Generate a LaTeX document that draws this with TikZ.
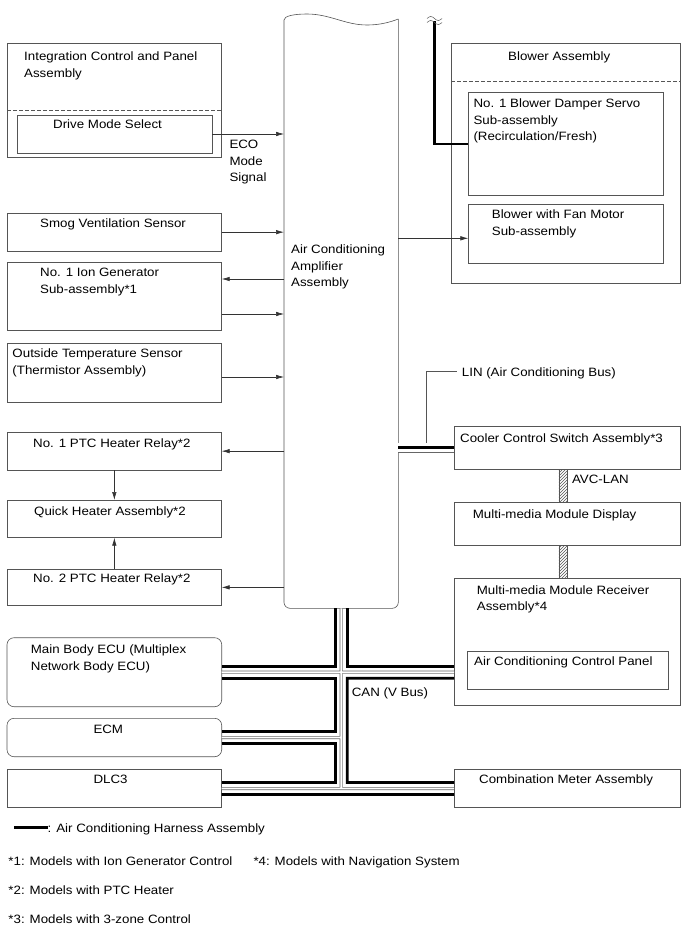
\documentclass[tikz,border=0pt]{standalone}
\usepackage{fontspec}
\setmainfont{Liberation Sans}[FakeStretch=1.1]
\usepackage{xcolor}
\definecolor{boxGray}{HTML}{555555}
\definecolor{busGray}{HTML}{666666}
\usepackage{tikz}
\usetikzlibrary{arrows.meta, positioning, patterns}

\begin{document}
\begin{tikzpicture}[
		x=1pt, y=-1pt,
		box/.style={
			draw=boxGray,
			line width=0.6pt,
			inner sep=0pt,
			outer sep=0pt,
			anchor=north west
		},
		rbox/.style={box, rounded corners=7pt},
		txt/.style={
			inner sep=0pt,
			align=left,
			font=\fontsize{12.1}{16.5}\selectfont
		},
		divider/.style={draw=boxGray, line width=0.6pt, dash pattern=on 4pt off 2pt},
		arrow/.style={-{Latex[length=8pt, width=4.5pt]}, draw=black!80, line width=0.6pt},
		harness/.style={line width=2.7pt, draw=black},
		bus/.style={draw=busGray, line width=0.6pt, double=white, double distance=1.8pt},
		avc/.style={draw=boxGray, line width=0.5pt, pattern=north east lines, pattern color=boxGray}
		]
		\useasboundingbox (0,0) rectangle (690,951);
		
		% left column
		\node[box, minimum width=214.7pt, minimum height=114pt] (intg) at (7,43) {};
		\node[box, minimum width=195pt, minimum height=38pt] (drive) at (17,115) {};
		\node[box, minimum width=214.7pt, minimum height=37.7pt] (smog) at (7,213.3) {};
		\node[box, minimum width=214.7pt, minimum height=68.4pt, below=11.3pt of smog] (ion) {};
		\node[box, minimum width=214.7pt, minimum height=59.4pt, below=12.6pt of ion] (otemp) {};
		\node[box, minimum width=214.7pt, minimum height=37.7pt, below=29.6pt of otemp] (ptca) {};
		\node[box, minimum width=214.7pt, minimum height=37.7pt, below=30pt of ptca] (quick) {};
		\node[box, minimum width=214.7pt, minimum height=36.7pt, below=31.3pt of quick] (ptcb) {};
		\node[rbox, minimum width=214.7pt, minimum height=69pt, below=32pt of ptcb] (mbecu) {};
		\node[rbox, minimum width=214.7pt, minimum height=38.4pt, below=11.6pt of mbecu] (ecm) {};
		\node[box, minimum width=214.7pt, minimum height=38.4pt, below=12.6pt of ecm] (dlc) {};
		
		\draw[divider] ([yshift=-67pt]intg.north west) -- ([yshift=-67pt]intg.north east);
		
		\node[txt, below right=9pt and 17pt of intg.north west] (intgT) {Integration Control and Panel\\Assembly};
		\node[txt, below right=5pt and 36pt of drive.north west] (driveT) {Drive Mode Select};
		\node[txt, below right=6pt and 17.3pt of drive.east] (eco) {ECO\\Mode\\Signal};
		\node[txt, below right=5.7pt and 33pt of smog.north west] (smogT) {Smog Ventilation Sensor};
		\node[txt, below right=6pt and 33pt of ion.north west] (ionT) {No. 1 Ion Generator\\Sub-assembly*1};
		\node[txt, below right=5.7pt and 5.3pt of otemp.north west] (otempT) {Outside Temperature Sensor\\(Thermistor Assembly)};
		\node[txt, below right=6.7pt and 26pt of ptca.north west] (ptcaT) {No. 1 PTC Heater Relay*2};
		\node[txt, below right=7pt and 27pt of quick.north west] (quickT) {Quick Heater Assembly*2};
		\node[txt, below right=5pt and 26pt of ptcb.north west] (ptcbT) {No. 2 PTC Heater Relay*2};
		\node[txt, below right=7.3pt and 23.7pt of mbecu.north west] (mbecuT) {Main Body ECU (Multiplex\\Network Body ECU)};
		\node[txt, below right=6.7pt and 86.3pt of ecm.north west] (ecmT) {ECM};
		\node[txt, below right=5.7pt and 86.3pt of dlc.north west] (dlcT) {DLC3};
		
		% amplifier
		\node[inner sep=0pt, outer sep=0pt, anchor=north west, minimum width=114.3pt, minimum height=590.3pt] (amp) at (284,18) {};
		\draw[draw=boxGray, line width=0.6pt] (398.3,19) .. controls (388,23) and (378,25) .. (367,25)
			.. controls (345,25) and (330,14) .. (307,14) .. controls (294,14) and (284,16) .. (284,20)
			[rounded corners=6pt] -- (amp.south west) -- (amp.south east) -- (398.3,19);
		\node[txt, below right=227pt and 7pt of amp.north west] (ampT) {Air Conditioning\\Amplifier\\Assembly};
		
		% right column
		\node[box, minimum width=229pt, minimum height=240pt] (blower) at (451,43.3) {};
		\node[box, minimum width=195pt, minimum height=102.3pt] (damper) at (468.3,92.7) {};
		\node[box, minimum width=195pt, minimum height=59pt] (fan) at (468.3,204.3) {};
		\node[box, minimum width=226.7pt, minimum height=43pt] (cooler) at (454,426) {};
		\node[box, minimum width=226.7pt, minimum height=43pt, below=33.7pt of cooler] (display) {};
		\node[box, minimum width=226.7pt, minimum height=126.7pt, below=32.6pt of display] (recv) {};
		\node[box, minimum width=201pt, minimum height=38pt] (acpanel) at (467.3,651) {};
		\node[box, minimum width=226.7pt, minimum height=38.4pt] (meter) at (454,769.3) {};
		
		\draw[divider] ([yshift=-37.7pt]blower.north west) -- ([yshift=-37.7pt]blower.north east);
		
		\node[txt, below right=8.4pt and 57pt of blower.north west] (blowerT) {Blower Assembly};
		\node[txt, below right=6.3pt and 5pt of damper.north west] (damperT) {No. 1 Blower Damper Servo\\Sub-assembly\\(Recirculation/Fresh)};
		\node[txt, below right=5.7pt and 23.4pt of fan.north west] (fanT) {Blower with Fan Motor\\Sub-assembly};
		\node[txt, below right=7.3pt and 6pt of cooler.north west] (coolerT) {Cooler Control Switch Assembly*3};
		\node[txt, below right=6.6pt and 18.7pt of display.north west] (displayT) {Multi-media Module Display};
		\node[txt, below right=7pt and 22.7pt of recv.north west] (recvT) {Multi-media Module Receiver\\Assembly*4};
		\node[txt, below right=5.7pt and 6.7pt of acpanel.north west] (acpanelT) {Air Conditioning Control Panel};
		\node[txt, below right=5.7pt and 25pt of meter.north west] (meterT) {Combination Meter Assembly};
		
		% signal lines
		\draw[arrow] (drive.east) -- (drive.east -| amp.west);
		\draw[arrow] (smog.east) -- (smog.east -| amp.west);
		\draw[arrow] ([yshift=17.5pt]ion.east -| amp.west) -- ([yshift=17.5pt]ion.east);
		\draw[arrow] ([yshift=-17.5pt]ion.east) -- ([yshift=-17.5pt]ion.east -| amp.west);
		\draw[arrow] ([yshift=-4pt]otemp.east) -- ([yshift=-4pt]otemp.east -| amp.west);
		\draw[arrow] (ptca.east -| amp.west) -- (ptca.east);
		\draw[arrow] (ptcb.east -| amp.west) -- (ptcb.east);
		\draw[arrow] (ptca.south) -- (quick.north);
		\draw[arrow] (ptcb.north) -- (quick.south);
		\draw[arrow] ([yshift=-4.5pt]fan.west -| amp.east) -- ([yshift=-4.5pt]fan.west);
		
		% harness to damper servo
		\coordinate (brk) at (434.3,21);
		\draw[harness] (brk) |- (damper.west);
		\draw[draw=boxGray, line width=0.5pt] (427,18.5) sin (430.75,16.5) cos (434.5,18.5) sin (438.25,20.5) cos (442,18.5);
		\draw[draw=boxGray, line width=0.5pt] (427,22.5) sin (430.75,20.5) cos (434.5,22.5) sin (438.25,24.5) cos (442,22.5);
		
		% LIN
		\draw[bus, double distance=8.8pt] (amp.east |- cooler.west) -- (cooler.west);
		\draw[harness] (amp.east |- cooler.west) -- (cooler.west);
		\path (amp.east |- cooler.west) ++(28.4,-4.6) coordinate (linTap);
		\node[txt, anchor=north west] (linT) at (461.7,368) {LIN (Air Conditioning Bus)};
		\draw[draw=boxGray, line width=0.6pt] (linTap) |- ([xshift=-5pt, yshift=-3.7pt]linT.north west);
		
		% AVC-LAN
		\draw[avc] ([xshift=-8.5pt]cooler.south) rectangle (display.north);
		\draw[avc] ([xshift=-8.5pt]display.south) rectangle (recv.north);
		\node[txt, anchor=north west] (avcT) at ([xshift=4.5pt, yshift=-6pt]cooler.south) {AVC-LAN};
		
		% CAN
		\coordinate (canT) at (amp.south |- mbecu.east);
		\coordinate (canM) at (amp.south |- ecm.east);
		\coordinate (canB) at (amp.south |- dlc.east);
		\coordinate (canR) at (recv.west |- mbecu.east);
		\draw[bus] (amp.south) -- (canB) (mbecu.east) -- (canR) (ecm.east) -- (canM) (dlc.east) -- (meter.west);
		\draw[harness] ([xshift=-6pt]amp.south) -- ([shift={(-6pt,6pt)}]canT) -- ([yshift=6pt]mbecu.east);
		\draw[harness] ([xshift=6pt]amp.south) -- ([shift={(6pt,6pt)}]canT) -- ([yshift=6pt]canR);
		\draw[harness] ([yshift=-6pt]mbecu.east) -- ([shift={(-6pt,-6pt)}]canT) -- ([shift={(-6pt,6pt)}]canM) -- ([yshift=6pt]ecm.east);
		\draw[harness] ([yshift=-6pt]ecm.east) -- ([shift={(-6pt,-6pt)}]canM) -- ([shift={(-6pt,6pt)}]canB) -- ([yshift=6pt]dlc.east);
		\draw[harness] ([yshift=-6pt]canR) -- ([shift={(6pt,-6pt)}]canT) -- ([shift={(6pt,6pt)}]canB) -- ([yshift=6pt]meter.west);
		\draw[harness] ([yshift=-6pt]dlc.east) -- ([yshift=-6pt]meter.west);
		\node[txt, below right=15pt and 10.5pt of canT] (canL) {CAN (V Bus)};
		
		% legend
		\node[txt, anchor=north west] (legT) at (47.5,823.3) {: Air Conditioning Harness Assembly};
		\draw[harness] ([yshift=5pt]legT.base west) -- ++(-34,0);
		\node[txt, anchor=north west] (note1) at (8.3,856.7) {*1: Models with Ion Generator Control};
		\node[txt, anchor=north west] (note4) at (253.3,856.7) {*4: Models with Navigation System};
		\node[txt, anchor=north west] (note2) at (8.3,886) {*2: Models with PTC Heater};
		\node[txt, anchor=north west] (note3) at (8.3,915) {*3: Models with 3-zone Control};
		
	\end{tikzpicture}
\end{document}
